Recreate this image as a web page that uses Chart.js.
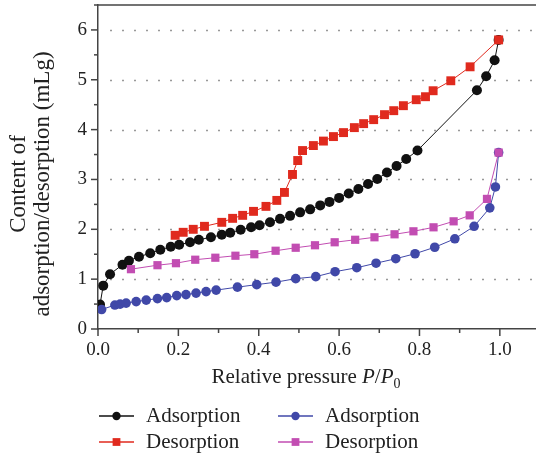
<!DOCTYPE html>
<html>
<head>
<meta charset="utf-8">
<script src="https://cdn.jsdelivr.net/npm/chart.js@4/dist/chart.umd.min.js"></script>
<style>
  html, body { margin: 0; padding: 0; background: #fff; overflow: hidden; }
  #wrap { width: 536px; height: 458px; position: relative; }
</style>
</head>
<body>
<div id="wrap"><canvas id="myChart"></canvas></div>
<script>
// sample 1 (black / red)
const adsX1 = [0.005,0.013,0.030,0.061,0.077,0.102,0.130,0.155,0.181,0.202,0.229,0.251,0.281,0.308,0.329,0.355,0.381,0.402,0.428,0.453,0.478,0.503,0.528,0.553,0.576,0.600,0.624,0.648,0.672,0.695,0.719,0.743,0.767,0.795,0.943,0.966,0.987,0.997];
const adsY1 = [0.49,0.87,1.10,1.29,1.37,1.45,1.52,1.59,1.65,1.69,1.74,1.79,1.84,1.89,1.93,1.99,2.04,2.08,2.14,2.21,2.27,2.34,2.40,2.48,2.55,2.63,2.72,2.81,2.91,3.01,3.14,3.27,3.41,3.58,4.79,5.07,5.39,5.80];
const desX1 = [0.192,0.212,0.237,0.265,0.308,0.335,0.360,0.387,0.418,0.445,0.464,0.484,0.497,0.509,0.536,0.561,0.586,0.611,0.638,0.661,0.686,0.713,0.736,0.760,0.792,0.815,0.834,0.878,0.926,0.997];
const desY1 = [1.88,1.94,2.00,2.06,2.14,2.22,2.28,2.36,2.46,2.58,2.74,3.10,3.38,3.58,3.68,3.77,3.86,3.94,4.04,4.12,4.20,4.30,4.38,4.48,4.60,4.66,4.78,4.98,5.26,5.80];

// sample 2 (blue / magenta)
const adsX2 = [0.009,0.042,0.055,0.070,0.095,0.120,0.148,0.171,0.196,0.219,0.244,0.269,0.294,0.347,0.395,0.443,0.492,0.542,0.590,0.644,0.692,0.741,0.789,0.838,0.888,0.936,0.975,0.989,0.997];
const adsY2 = [0.39,0.48,0.50,0.52,0.55,0.58,0.61,0.63,0.67,0.69,0.72,0.75,0.78,0.84,0.89,0.94,1.01,1.05,1.15,1.23,1.32,1.41,1.51,1.64,1.81,2.06,2.43,2.85,3.54];
const desX2 = [0.082,0.148,0.194,0.242,0.292,0.342,0.389,0.442,0.492,0.540,0.589,0.640,0.688,0.738,0.785,0.835,0.885,0.925,0.968,0.997];
const desY2 = [1.20,1.28,1.32,1.39,1.43,1.47,1.50,1.57,1.63,1.68,1.74,1.79,1.84,1.90,1.96,2.04,2.16,2.28,2.61,3.54];

const seriesLabels = ['Adsorption', 'Desorption', 'Adsorption', 'Desorption'];
const xTickLabels = ['0.0', '0.2', '0.4', '0.6', '0.8', '1.0'];
const yTickLabels = ['0', '1', '2', '3', '4', '5', '6'];

const serif = '"Liberation Serif", "Times New Roman", serif';
const axisColor = '#444';

function toPoints(xs, ys) {
  return xs.map((x, i) => ({ x: x, y: ys[i] }));
}

function makeSet(label, xs, ys, color, style, radius, order) {
  return {
    label: label,
    data: toPoints(xs, ys),
    borderColor: color,
    backgroundColor: color,
    borderWidth: 1,
    pointStyle: style,
    pointRadius: radius,
    pointBorderWidth: 0,
    pointHoverRadius: radius,
    order: order
  };
}

// grid lines, tick marks, top frame, titles and legend
const decorations = {
  id: 'decorations',
  beforeDatasetsDraw(chart) {
    const ctx = chart.ctx;
    const area = chart.chartArea;
    const y = chart.scales.y;
    ctx.save();
    ctx.strokeStyle = '#999';
    ctx.lineWidth = 1.5;
    ctx.setLineDash([2, 10]);
    for (let v = 1; v < yTickLabels.length; v++) {
      const py = Math.round(y.getPixelForValue(v)) + 0.5;
      ctx.beginPath();
      ctx.moveTo(area.left + 12, py);
      ctx.lineTo(area.right, py);
      ctx.stroke();
    }
    ctx.restore();
  },
  afterDraw(chart) {
    const ctx = chart.ctx;
    const area = chart.chartArea;
    const xs = chart.scales.x;
    const ys = chart.scales.y;
    ctx.save();
    ctx.strokeStyle = axisColor;
    ctx.lineWidth = 1.5;
    // top frame
    ctx.beginPath();
    ctx.moveTo(area.left, area.top);
    ctx.lineTo(area.right, area.top);
    ctx.stroke();
    // x ticks
    for (let i = 0; i <= 10; i++) {
      const px = xs.getPixelForValue(i / 10);
      const len = i % 2 === 0 ? 7 : 4;
      ctx.beginPath();
      ctx.moveTo(px, area.bottom);
      ctx.lineTo(px, area.bottom + len);
      ctx.stroke();
    }
    // y ticks
    for (let i = 0; i <= 13; i++) {
      const py = ys.getPixelForValue(i / 2);
      const len = i % 2 === 0 ? 7 : 4;
      ctx.beginPath();
      ctx.moveTo(area.left, py);
      ctx.lineTo(area.left - len, py);
      ctx.stroke();
    }

    // x title
    ctx.fillStyle = '#222';
    ctx.textBaseline = 'alphabetic';
    const parts = [
      { t: 'Relative pressure ', f: '21px ' + serif, dy: 0 },
      { t: 'P', f: 'italic 21px ' + serif, dy: 0 },
      { t: '/', f: '21px ' + serif, dy: 0 },
      { t: 'P', f: 'italic 21px ' + serif, dy: 0 },
      { t: '0', f: '14px ' + serif, dy: 5 }
    ];
    let total = 0;
    parts.forEach(p => { ctx.font = p.f; total += ctx.measureText(p.t).width; });
    let tx = 306 - total / 2;
    parts.forEach(p => {
      ctx.font = p.f;
      ctx.fillText(p.t, tx, 383 + p.dy);
      tx += ctx.measureText(p.t).width;
    });

    // y title
    ctx.save();
    ctx.translate(0, 184);
    ctx.rotate(-Math.PI / 2);
    ctx.font = '23px ' + serif;
    ctx.textAlign = 'center';
    ctx.textBaseline = 'middle';
    ctx.fillText('Content of', 0, 19);
    ctx.fillText('adsorption/desorption (mLg)', 0, 43);
    ctx.restore();

    // legend
    const cols = [99, 278];
    const rows = [416, 442];
    chart.data.datasets.forEach((ds, i) => {
      const lx = cols[Math.floor(i / 2)];
      const ly = rows[i % 2];
      ctx.strokeStyle = ds.borderColor;
      ctx.lineWidth = 1.5;
      ctx.beginPath();
      ctx.moveTo(lx, ly);
      ctx.lineTo(lx + 35, ly);
      ctx.stroke();
      ctx.fillStyle = ds.backgroundColor;
      Chart.helpers.drawPoint(ctx, {
        pointStyle: ds.pointStyle,
        radius: ds.pointStyle === 'rect' ? 5.5 : 4.2,
        borderWidth: 0,
        rotation: 0
      }, lx + 17.5, ly);
      ctx.fillStyle = '#222';
      ctx.font = '21px ' + serif;
      ctx.textAlign = 'left';
      ctx.textBaseline = 'middle';
      ctx.fillText(ds.label, lx + 47, ly);
    });
    ctx.restore();
  }
};

const ctx = document.getElementById('myChart');

new Chart(ctx, {
  type: 'line',
  data: {
    datasets: [
      makeSet(seriesLabels[0], adsX1, adsY1, '#111111', 'circle', 5, 4),
      makeSet(seriesLabels[1], desX1, desY1, '#e02a1e', 'rect', 6.3, 3),
      makeSet(seriesLabels[2], adsX2, adsY2, '#4048a8', 'circle', 4.8, 2),
      makeSet(seriesLabels[3], desX2, desY2, '#c24db2', 'rect', 5.8, 1)
    ]
  },
  options: {
    responsive: true,
    maintainAspectRatio: false,
    animation: false,
    layout: { autoPadding: false, padding: { left: 0, right: 0, top: 5, bottom: 0 } },
    plugins: {
      legend: { display: false },
      tooltip: { enabled: false }
    },
    scales: {
      x: {
        type: 'linear',
        min: 0,
        max: 1.09,
        grid: { display: false, drawTicks: false },
        border: { display: true, color: axisColor, width: 1.5 },
        ticks: {
          stepSize: 0.1,
          includeBounds: false,
          autoSkip: false,
          maxRotation: 0,
          padding: 10,
          color: '#222',
          font: { family: serif, size: 19 },
          callback: function (value) {
            const k = Math.round(value * 10);
            if (Math.abs(value * 10 - k) > 0.001 || k % 2 !== 0) return '';
            return xTickLabels[k / 2] || '';
          }
        },
        afterFit: function (scale) {
          scale.height = 129;
          scale.paddingLeft = 0;
          scale.paddingRight = 0;
        }
      },
      y: {
        type: 'linear',
        min: 0,
        max: 6.5,
        grid: { display: false, drawTicks: false },
        border: { display: true, color: axisColor, width: 1.5 },
        ticks: {
          stepSize: 0.5,
          autoSkip: false,
          padding: 11,
          color: '#222',
          font: { family: serif, size: 19 },
          callback: function (value) {
            return Number.isInteger(value) ? (yTickLabels[value] || '') : '';
          }
        },
        afterFit: function (scale) {
          scale.width = 98;
          scale.paddingTop = 0;
          scale.paddingBottom = 0;
        }
      }
    }
  },
  plugins: [decorations]
});
</script>
</body>
</html>
